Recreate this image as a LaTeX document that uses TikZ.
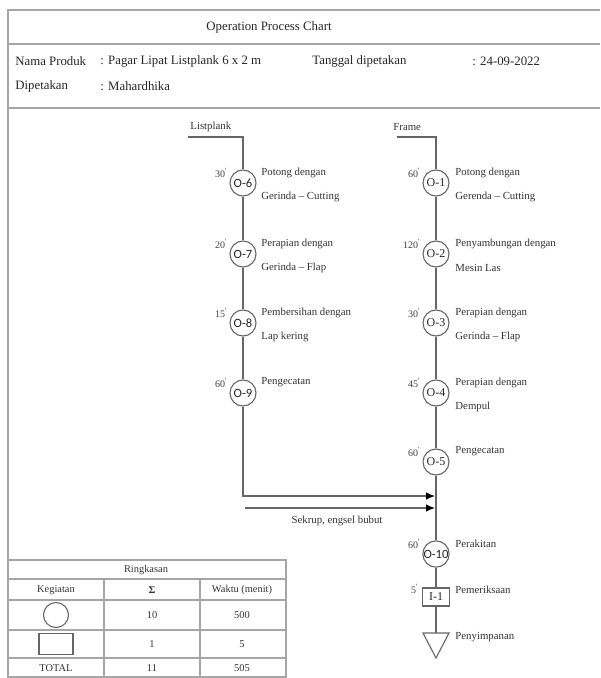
\documentclass[tikz,border=0pt]{standalone}
\usepackage{fontspec}
\setmainfont{Liberation Serif}
\newfontfamily\calfont{Carlito}
\usetikzlibrary{arrows.meta}
\newcommand\mn[1]{#1\raisebox{0.75ex}{\fontsize{4}{4}\selectfont\textquotesingle}}
\begin{document}
\begin{tikzpicture}[x=0.5pt,y=-0.5pt,
  frame/.style={draw=black!35, line width=0.8pt},
  conn/.style={draw=black!60, line width=0.55pt},
  tip/.style={-{Latex[length=4.5pt,width=3.8pt,color=black]}},
  op/.style={circle, draw=black!60, line width=0.55pt, minimum size=13pt, inner sep=0pt, fill=white, text=black!85, font=\fontsize{6}{7}\selectfont},
  opsans/.style={op, font=\calfont\fontsize{6.3}{7}\selectfont},
  insp/.style={rectangle, draw=black!60, line width=0.55pt, minimum width=13.5pt, minimum height=9pt, inner sep=0pt, fill=white, text=black!85, font=\fontsize{6}{7}\selectfont},
  desc/.style={anchor=west, inner sep=0pt, text=black!80, font=\fontsize{5.4}{6.5}\selectfont},
  tm/.style={anchor=east, inner sep=0pt, text=black!75, font=\fontsize{5}{6}\selectfont},
  hdr/.style={inner sep=0pt, text=black!85, font=\fontsize{6.4}{7.5}\selectfont},
  tbl/.style={inner sep=0pt, text=black!80, font=\fontsize{5.2}{6}\selectfont}]
\useasboundingbox (0,0) rectangle (600,678);
\fill[white] (0,0) rectangle (600,678);

% header frame
\draw[frame] (600,10) -- (8,10) -- (8,678);
\draw[frame] (8,44) -- (600,44);
\draw[frame] (8,108) -- (600,108);
\node[hdr] (title) at (269,27) {Operation Process Chart};
\node[hdr,anchor=west] (np) at (15,61) {Nama Produk};
\node[hdr,anchor=west] (npv) at (100,61) {: Pagar Lipat Listplank 6 x 2 m};
\node[hdr,anchor=west] (td) at (312,61) {Tanggal dipetakan};
\node[hdr,anchor=west] (tdv) at (472,61) {: 24-09-2022};
\node[hdr,anchor=west] (dp) at (15,86) {Dipetakan};
\node[hdr,anchor=west] (dpv) at (100,86) {: Mahardhika};

% left branch: Listplank
\node[desc,anchor=west] (lpl) at (190,127) {Listplank};
\coordinate (lpA) at (188,137);
\node[opsans] (O6) at (243,183) {O-6};
\node[opsans] (O7) at (243,254) {O-7};
\node[opsans] (O8) at (243,323) {O-8};
\node[opsans] (O9) at (243,393) {O-9};
\draw[conn] (lpA) -| (O6);
\draw[conn] (O6) -- (O7);
\draw[conn] (O7) -- (O8);
\draw[conn] (O8) -- (O9);

% right branch: Frame
\node[desc,anchor=west] (frl) at (393,127) {Frame};
\coordinate (frA) at (397,137);
\node[op] (O1) at (436,183) {O-1};
\node[op] (O2) at (436,254) {O-2};
\node[op] (O3) at (436,323) {O-3};
\node[op] (O4) at (436,393) {O-4};
\node[op] (O5) at (436,462) {O-5};
\node[opsans] (O10) at (436,554) {O-10};
\node[insp] (I1) at (436,597) {I-1};
\coordinate (st) at (436,633);
\draw[conn] (frA) -| (O1);
\draw[conn] (O1) -- (O2);
\draw[conn] (O2) -- (O3);
\draw[conn] (O3) -- (O4);
\draw[conn] (O4) -- (O5);
\draw[conn] (O5) -- (O10);
\draw[conn] (O10) -- (I1);
\draw[conn] (I1) -- (st);
\draw[conn] (423,633) -- (449,633) -- (436,658) -- cycle;

% joining arrows
\coordinate (m1) at (435,496);
\coordinate (s2) at (245,508);
\coordinate (m2) at (435,508);
\draw[conn,tip] (O9) |- (m1);
\draw[conn,tip] (s2) -- (m2);
\node[desc,anchor=center] (skr) at (337,521) {Sekrup, engsel bubut};

% times
\node[tm] (t6) at (227,173) {\mn{30}};
\node[tm] (t7) at (227,244) {\mn{20}};
\node[tm] (t8) at (227,313) {\mn{15}};
\node[tm] (t9) at (227,383) {\mn{60}};
\node[tm] (t1) at (420,173) {\mn{60}};
\node[tm] (t2) at (420,244) {\mn{120}};
\node[tm] (t3) at (420,313) {\mn{30}};
\node[tm] (t4) at (420,383) {\mn{45}};
\node[tm] (t5) at (420,452) {\mn{60}};
\node[tm] (t10) at (420,544) {\mn{60}};
\node[tm] (ti1) at (418,589) {\mn{5}};

% descriptions left
\node[desc] (d6a) at (261,173) {Potong dengan};
\node[desc] (d6b) at (261,197) {Gerinda -- Cutting};
\node[desc] (d7a) at (261,244) {Perapian dengan};
\node[desc] (d7b) at (261,268) {Gerinda -- Flap};
\node[desc] (d8a) at (261,313) {Pembersihan dengan};
\node[desc] (d8b) at (261,337) {Lap kering};
\node[desc] (d9a) at (261,382) {Pengecatan};
% descriptions right
\node[desc] (d1a) at (455,173) {Potong dengan};
\node[desc] (d1b) at (455,197) {Gerenda -- Cutting};
\node[desc] (d2a) at (455,244) {Penyambungan dengan};
\node[desc] (d2b) at (455,268) {Mesin Las};
\node[desc] (d3a) at (455,313) {Perapian dengan};
\node[desc] (d3b) at (455,337) {Gerinda -- Flap};
\node[desc] (d4a) at (455,383) {Perapian dengan};
\node[desc] (d4b) at (455,407) {Dempul};
\node[desc] (d5a) at (455,451) {Pengecatan};
\node[desc] (d10a) at (455,544) {Perakitan};
\node[desc] (di1a) at (455,590) {Pemeriksaan};
\node[desc] (dsa) at (455,637) {Penyimpanan};

% summary table
\draw[frame] (8,560) -- (286,560) -- (286,677) -- (8,677);
\draw[frame] (8,579) -- (286,579);
\draw[frame] (8,600) -- (286,600);
\draw[frame] (8,630) -- (286,630);
\draw[frame] (8,658) -- (286,658);
\draw[frame] (104,579) -- (104,677);
\draw[frame] (200,579) -- (200,677);
\node[tbl] (rk) at (146,570) {Ringkasan};
\node[tbl] (kg) at (56,590) {Kegiatan};
\node[tbl] (sg) at (152,590) {\textbf{Σ}};
\node[tbl] (wk) at (242,590) {Waktu (menit)};
\node[circle, draw=black!60, line width=0.55pt, minimum size=12.5pt, inner sep=0pt] (tc) at (56,615) {};
\node[tbl] (c1) at (152,615) {10};
\node[tbl] (c2) at (242,615) {500};
\node[rectangle, draw=black!60, line width=0.55pt, minimum width=17pt, minimum height=10.5pt, inner sep=0pt] (tr) at (56,644) {};
\node[tbl] (r1) at (152,644) {1};
\node[tbl] (r2) at (242,644) {5};
\node[tbl] (tt) at (56,668) {TOTAL};
\node[tbl] (t1v) at (152,668) {11};
\node[tbl] (t2v) at (242,668) {505};
\end{tikzpicture}
\end{document}
